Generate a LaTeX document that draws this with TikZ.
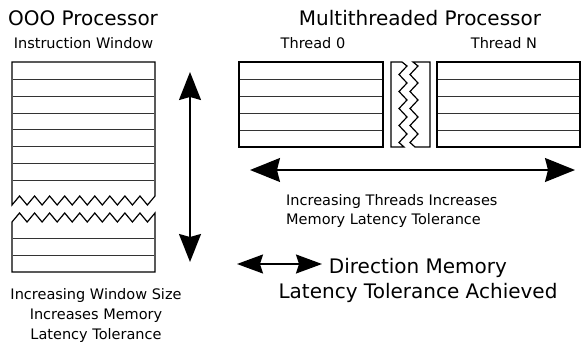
\documentclass[tikz,border=0pt]{standalone}
\usepackage{fontspec}
\setmainfont{DejaVu Sans}
\usetikzlibrary{arrows.meta}
\tikzset{
  boxline/.style={line width=1.2pt, line join=miter},
  rowline/.style={line width=0.9pt, black!80},
  bigarrow/.style={line width=1.6pt, {Stealth[length=28pt,width=22pt,inset=3pt]}-{Stealth[length=28pt,width=22pt,inset=3pt]}},
  widearrow/.style={line width=1.6pt, {Stealth[length=30pt,width=24pt,inset=3pt]}-{Stealth[length=30pt,width=24pt,inset=3pt]}},
  legendarrow/.style={line width=1.5pt, {Stealth[length=26pt,width=19pt,inset=3pt]}-{Stealth[length=26pt,width=19pt,inset=3pt]}},
  bigtext/.style={font=\fontsize{20}{25}\selectfont, inner sep=0pt},
  smalltext/.style={font=\fontsize{14.5}{20}\selectfont, inner sep=0pt},
}
\begin{document}
\begin{tikzpicture}[x=1pt,y=-1pt]
\useasboundingbox (0,0) rectangle (581,343);

% ---------- titles ----------
\node[bigtext, anchor=base] (ooo) at (83,25) {OOO Processor};
\node[smalltext, anchor=base] (iw) at (83.5,48) {Instruction Window};
\node[bigtext, anchor=base] (mtp) at (420,25) {Multithreaded Processor};
\node[smalltext, anchor=base] (t0) at (313,48) {Thread 0};
\node[smalltext, anchor=base] (tn) at (504,48) {Thread N};

% ---------- OOO instruction window ----------
\draw[boxline] (12,62) -- (155,62) -- (155,196)
  \foreach \k in {18,...,0} { -- ({12+\k*143/19}, {mod(\k,2)==0 ? 205 : 196}) } -- cycle;
\foreach \yy in {79,96,113,129,146,163,180}
  \draw[rowline] (12.6,\yy) -- (154.4,\yy);
\draw[boxline] (12,272) -- (155,272) -- (155,213)
  \foreach \k in {18,...,0} { -- ({12+\k*143/19}, {mod(\k,2)==0 ? 222 : 213}) } -- cycle;
\foreach \yy in {238,255}
  \draw[rowline] (12.6,\yy) -- (154.4,\yy);

% ---------- thread windows ----------
\draw[boxline] (239,62) rectangle (383,147);
\foreach \yy in {79,96,113,130}
  \draw[rowline] (239.6,\yy) -- (382.4,\yy);
\draw[boxline] (437,62) rectangle (580,147);
\foreach \yy in {79,96,113,130}
  \draw[rowline] (437.6,\yy) -- (579.4,\yy);

% ---------- broken middle block ----------
\draw[boxline] (391,62) -- (402,62) -- (407,66)
  \foreach \j in {1,...,9} { -- ({mod(\j,2)==1 ? 399 : 407}, {66+\j*8.5}) } -- (404,147) -- (391,147) -- cycle;
\draw[boxline] (430,62) -- (413,62) -- (418,66)
  \foreach \j in {1,...,9} { -- ({mod(\j,2)==1 ? 410 : 418}, {66+\j*8.5}) } -- (415,147) -- (430,147) -- cycle;

% ---------- arrows ----------
\coordinate (vt) at (190,72);
\coordinate (vb) at (190,262);
\draw[bigarrow] (vt) -- (vb);
\coordinate (hl) at (250,170);
\coordinate (hr) at (575,170);
\draw[widearrow] (hl) -- (hr);
\coordinate (ll) at (237,264);
\coordinate (lr) at (322,264);
\draw[legendarrow] (ll) -- (lr);

% ---------- captions (base anchor = last line of a multi-line node) ----------
\node[smalltext, anchor=base, align=center] (capL) at (96,339)
  {Increasing Window Size\\Increases Memory\\Latency Tolerance};
\node[smalltext, anchor=base west, align=left, font=\fontsize{14.5}{19}\selectfont] (capR) at (286,224)
  {Increasing Threads Increases\\Memory Latency Tolerance};
\node[bigtext, anchor=base, align=center] (legend) at (418,298)
  {Direction Memory\\Latency Tolerance Achieved};
\end{tikzpicture}
\end{document}
